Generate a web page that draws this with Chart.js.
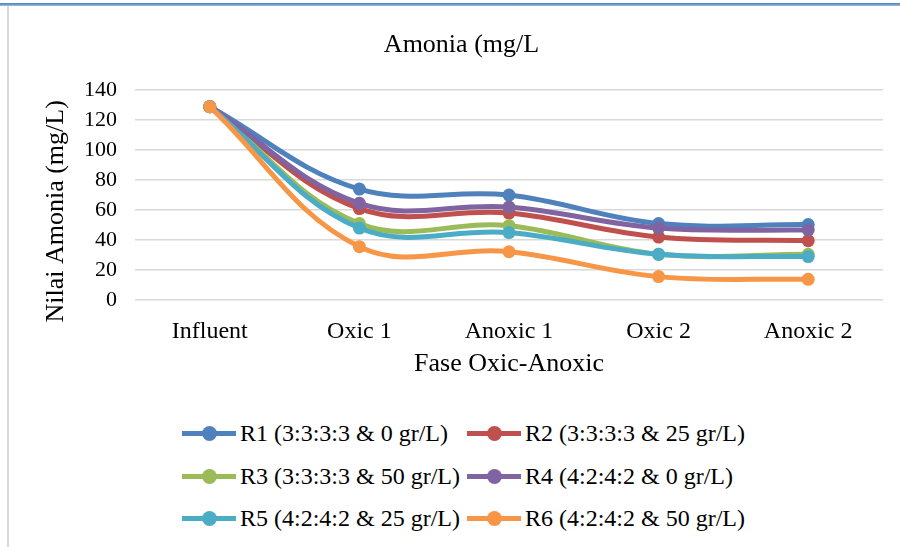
<!DOCTYPE html>
<html>
<head>
  <title>Amonia (mg/L</title>
  <script src="https://cdn.jsdelivr.net/npm/chart.js"></script>
  <style>
    body {
      margin: 0;
      background: white;
      font-family: "Liberation Serif", "Times New Roman", serif;
    }
    #wrap {
      position: relative;
      width: 900px;
      height: 547px;
      overflow: hidden;
    }
    .topline {
      position: absolute;
      left: 0;
      top: 3px;
      width: 900px;
      height: 3px;
      background: linear-gradient(to bottom, #4a7ebb, #9dbbe3);
    }
    .leftline {
      position: absolute;
      left: 7px;
      top: 6px;
      width: 2px;
      height: 541px;
      background: #d9d9d9;
    }
    #chart {
      position: absolute;
      left: 0;
      top: 0;
    }
    #legend {
      position: absolute;
      left: 0;
      top: 0;
    }
    .legend-item {
      position: absolute;
      display: flex;
      align-items: center;
      font-size: 24px;
      color: #000;
      white-space: nowrap;
    }
    .swatch {
      position: relative;
      width: 54px;
      height: 15px;
      margin-right: 4px;
    }
    .swatch .bar {
      position: absolute;
      left: 0;
      top: 5px;
      width: 54px;
      height: 5px;
    }
    .swatch .dot {
      position: absolute;
      left: 20px;
      top: 0;
      width: 15px;
      height: 15px;
      border-radius: 50%;
    }
  </style>
</head>
<body>
  <div id="wrap">
    <div class="topline"></div>
    <div class="leftline"></div>
    <canvas id="chart" width="900" height="400"></canvas>
    <div id="legend"></div>
  </div>

  <script>
    const categories = ["Influent", "Oxic 1", "Anoxic 1", "Oxic 2", "Anoxic 2"];
    const seriesNames = [
      "R1 (3:3:3:3 & 0 gr/L)",
      "R2 (3:3:3:3 & 25 gr/L)",
      "R3 (3:3:3:3 & 50 gr/L)",
      "R4 (4:2:4:2 & 0 gr/L)",
      "R5 (4:2:4:2 & 25 gr/L)",
      "R6 (4:2:4:2 & 50 gr/L)"
    ];
    const r1 = [129, 74, 70, 51, 50.4];
    const r2 = [129, 61, 58, 42, 39.6];
    const r3 = [129, 51, 49.6, 30.5, 30.5];
    const r4 = [129, 64.5, 62, 48, 46.7];
    const r5 = [129, 48, 45, 30.5, 29];
    const r6 = [129, 35.6, 32.2, 15.6, 13.8];
    const yTicks = [0, 20, 40, 60, 80, 100, 120, 140];

    const colors = ["#4f81bd", "#c0504d", "#9bbb59", "#8064a2", "#4bacc6", "#f79646"];
    const seriesValues = [r1, r2, r3, r4, r5, r6];
    const font = "'Liberation Serif', 'Times New Roman', serif";

    const datasets = seriesValues.map((vals, i) => ({
      label: seriesNames[i],
      data: vals,
      borderColor: colors[i],
      backgroundColor: colors[i],
      pointBackgroundColor: colors[i],
      pointBorderColor: colors[i],
      borderWidth: 5,
      pointRadius: 6.5,
      pointBorderWidth: 0,
      tension: 0.38,
      fill: false,
      order: seriesValues.length - i
    }));

    new Chart(document.getElementById("chart").getContext("2d"), {
      type: "line",
      data: { labels: categories, datasets: datasets },
      options: {
        responsive: false,
        animation: false,
        devicePixelRatio: 1,
        layout: { padding: { left: 40, right: 17, top: 0, bottom: 0 } },
        plugins: {
          legend: { display: false },
          tooltip: { enabled: false },
          title: {
            display: true,
            text: "Amonia (mg/L",
            color: "#000",
            font: { family: font, size: 26, weight: "normal" },
            padding: { top: 30, bottom: 29 }
          }
        },
        scales: {
          x: {
            offset: true,
            grid: { display: false, drawTicks: false },
            border: { display: false },
            ticks: { color: "#000", font: { family: font, size: 24 }, padding: 17, maxRotation: 0 },
            title: {
              display: true,
              text: "Fase Oxic-Anoxic",
              color: "#000",
              font: { family: font, size: 26 },
              padding: { top: 0, bottom: 20 }
            },
            afterFit: s => { s.height = 100; }
          },
          y: {
            min: 0,
            max: 140,
            afterBuildTicks: s => { s.ticks = yTicks.map(v => ({ value: v })); },
            grid: { color: "#d9d9d9", lineWidth: 1.5, drawTicks: false },
            border: { display: false },
            ticks: { color: "#000", font: { family: font, size: 22 }, padding: 18 },
            title: {
              display: true,
              text: "Nilai Amonia (mg/L)     ",
              color: "#000",
              font: { family: font, size: 26 },
              padding: { top: 1, bottom: 0 }
            },
            afterFit: s => { s.width = 95; }
          }
        }
      }
    });

    // legend laid out in two aligned columns like the original
    const legendDiv = document.getElementById("legend");
    const colX = [182, 467];
    const rowY = [433, 476, 518];
    seriesNames.forEach((name, i) => {
      const item = document.createElement("div");
      item.className = "legend-item";
      item.style.left = colX[i % 2] + "px";
      item.style.top = (rowY[Math.floor(i / 2)] - 14) + "px";
      item.style.height = "28px";
      item.innerHTML = '<div class="swatch"><div class="bar" style="background:' + colors[i] +
        '"></div><div class="dot" style="background:' + colors[i] + '"></div></div>';
      const txt = document.createElement("span");
      txt.textContent = name;
      item.appendChild(txt);
      legendDiv.appendChild(item);
    });
  </script>
</body>
</html>
